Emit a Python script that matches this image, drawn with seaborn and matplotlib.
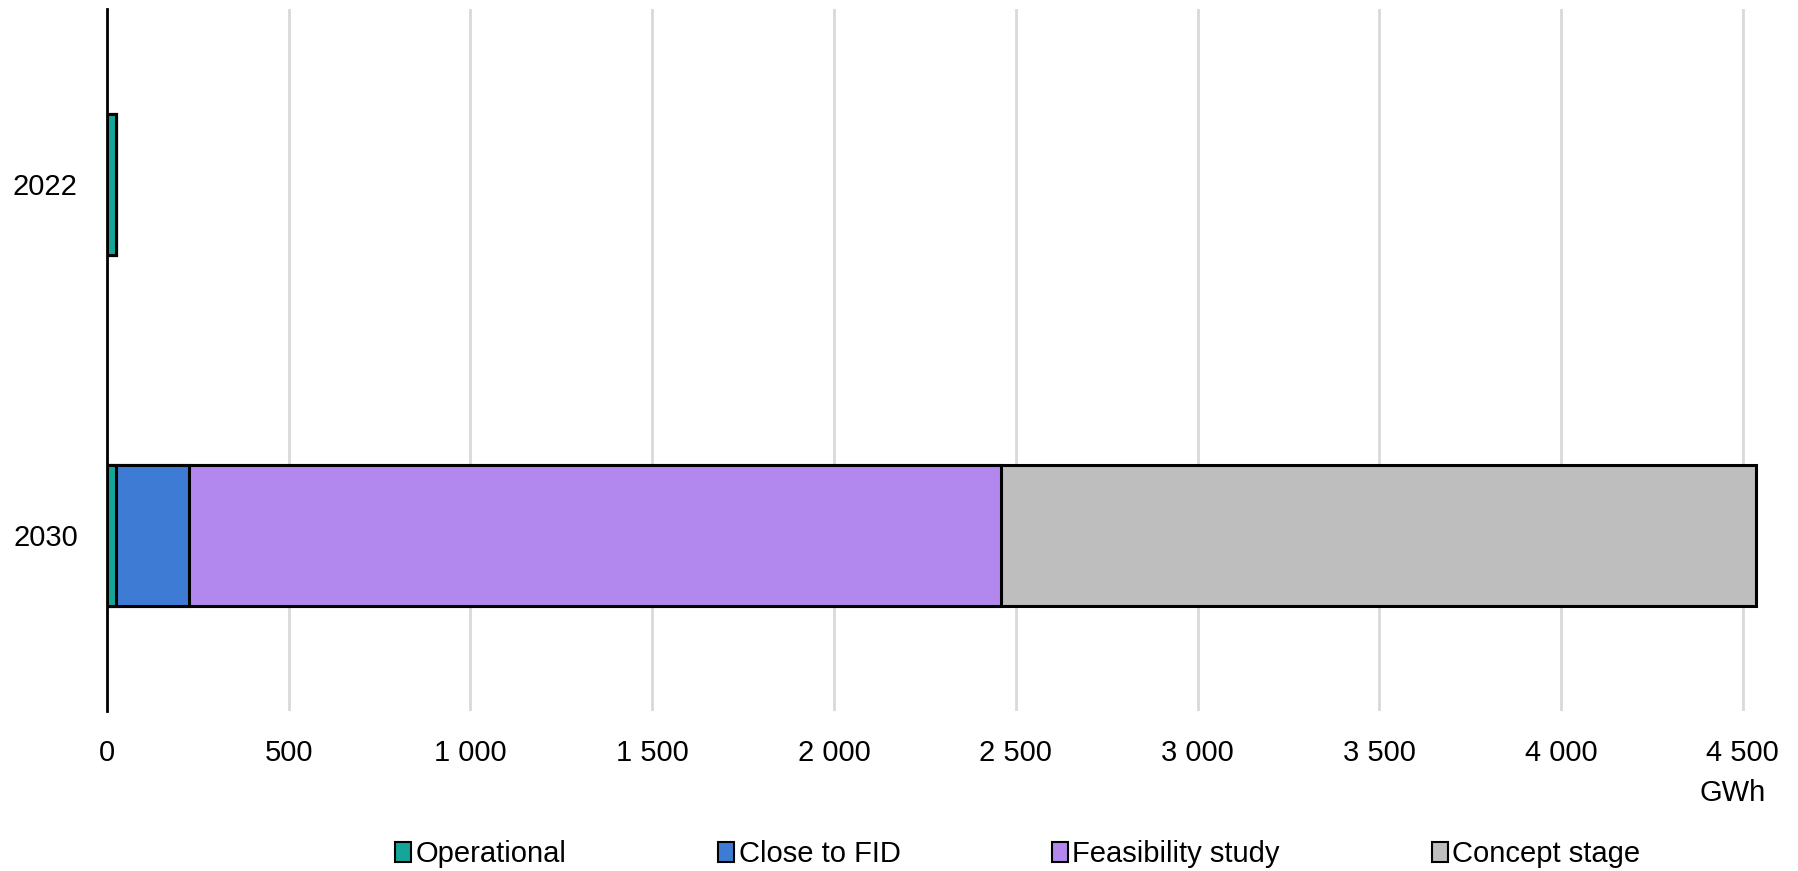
import matplotlib
matplotlib.use("Agg")
import matplotlib.pyplot as plt
import matplotlib.ticker as mticker
from matplotlib.patches import Patch
import numpy as np
import pandas as pd
import seaborn as sns

# Data (GWh)
years = ["2022", "2030"]
stages = ["Operational", "Close to FID", "Feasibility study", "Concept stage"]
operational = [25, 25]
close_to_fid = [0, 200]
feasibility = [0, 2235]
concept = [0, 2075]
colors = ["#13a699", "#3d7bd4", "#b287ee", "#bebebe"]

sns.set_theme(style="white")
plt.rcParams['font.family'] = ['Liberation Sans', 'DejaVu Sans']
plt.rcParams['text.color'] = 'black'

values = np.array([operational, close_to_fid, feasibility, concept])
cum = values.cumsum(axis=0)

fig = plt.figure(figsize=(17.98, 8.71), dpi=100)
ax = fig.add_axes([0.0595, 0.1837, 0.9199, 0.806])

# stacked bars: draw cumulative totals from the top stage down
for i in range(len(stages) - 1, -1, -1):
    df = pd.DataFrame({"year": years, "val": cum[i]})
    sns.barplot(data=df, x="val", y="year", orient="h", color=colors[i],
                edgecolor="black", linewidth=2.2, width=0.4, saturation=1,
                ax=ax, zorder=3)

ax.set_xlim(0, 4550)
ax.set_ylim(1.5, -0.5)
ax.set_xticks(np.arange(0, 4501, 500))
ax.xaxis.set_major_formatter(mticker.FuncFormatter(lambda v, p: f"{int(v):,}".replace(",", " ")))
ax.grid(axis="x", color="#d9d9d9", linewidth=2, zorder=0)
ax.set_axisbelow(True)
for s in ["top", "right", "bottom"]:
    ax.spines[s].set_visible(False)
ax.spines["left"].set_color("black")
ax.spines["left"].set_linewidth(2)
ax.spines["left"].set_zorder(5)
ax.tick_params(axis="both", length=0, labelsize=21, colors="black")
ax.tick_params(axis="x", pad=20)
ax.tick_params(axis="y", pad=21)
ax.set_xlabel("")
ax.set_ylabel("")

fig.text(0.982, 0.0895, "GWh", ha="right", va="center", fontsize=21, color="black")

handles = [Patch(facecolor=c, edgecolor="black", linewidth=1.5) for c in colors]
fig.legend(handles, stages, loc="center", bbox_to_anchor=(0.566, 0.0195),
           ncol=4, frameon=False, fontsize=21, handlelength=0.55,
           handleheight=0.7, handletextpad=0.15, columnspacing=5.2,
           labelcolor="black")

fig.savefig("out.png", dpi=100)
